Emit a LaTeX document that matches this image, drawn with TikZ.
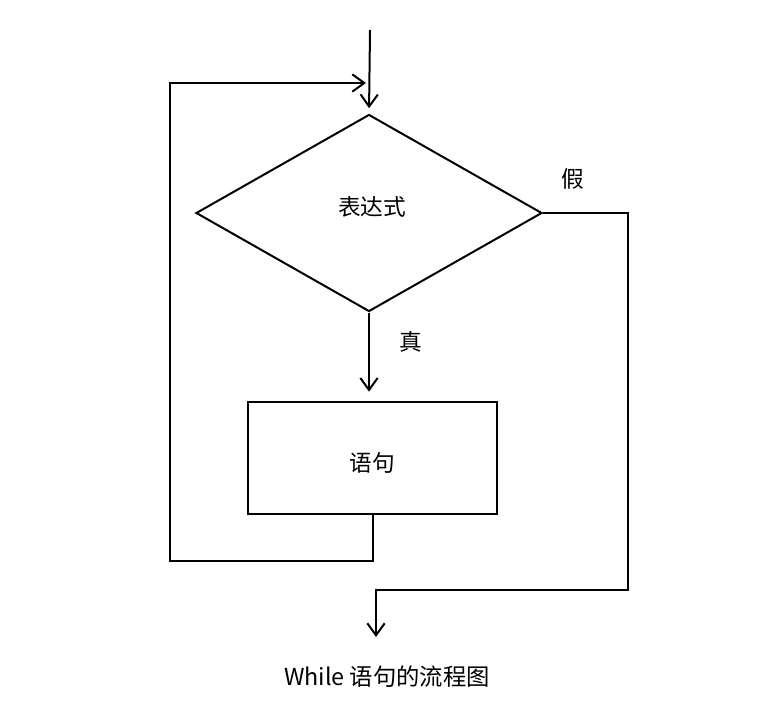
\documentclass[tikz,border=0pt]{standalone}
\usepackage{fontspec}
\newfontfamily\cjk{Noto Sans CJK SC}
\usetikzlibrary{arrows.meta,shapes.geometric,positioning}

\begin{document}
\begin{tikzpicture}[x=0.75pt,y=-0.75pt,line width=1.5pt,
  every node/.style={font=\cjk\fontsize{17}{20}\selectfont},
  decnode/.style={draw,diamond,inner sep=0pt,minimum width=259.5pt,minimum height=147.75pt},
  stmtnode/.style={draw,rectangle,inner sep=0pt,minimum width=186.75pt,minimum height=84pt},
  >={Straight Barb[length=9pt,width=13pt]}
]
\useasboundingbox (0,0) rectangle (780,724);

% the test and the body
\node[decnode] (cond) at (369,213) {};
\node at (372,207) {表达式};
\node[stmtnode] (stmt) at (372.5,458) {};
\node at (372,463) {语句};

% labels of the branches
\node (yes) at (411,342) {真};
\node (no) at (573,179) {假};

% free ends
\coordinate (entry) at (370,30);
\coordinate (backL) at (170,561);
\coordinate (backT) at (170,83);
\coordinate (backE) at (366,83);
\coordinate (exitR) at (628,590);
\coordinate (exit) at (376,637);

% the edges
\draw[->,shorten >=4pt] (entry) -- (cond.north);
\draw[->,shorten >=7pt] (cond.south) -- (cond.south |- stmt.north);
\draw[->] (stmt.south) -- (stmt.south |- backL) -- (backL) -- (backT) -- (backE);
\draw[->] (cond.east) -- (cond.east -| exitR) -- (exitR) -| (exit);

\node[font=\cjk\fontsize{17.5}{21}\selectfont] (title) at (387,677) {While 语句的流程图};
\end{tikzpicture}
\end{document}
